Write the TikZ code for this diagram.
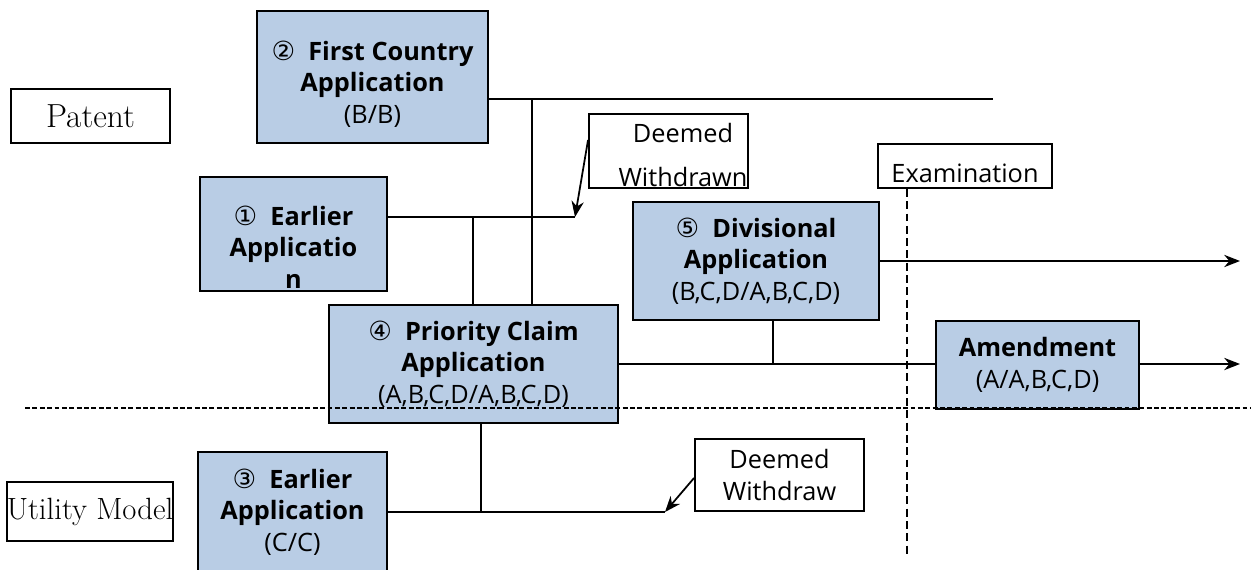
\documentclass[tikz,border=0pt]{standalone}
\usepackage{fontspec}
\usepackage{tikz}
\usetikzlibrary{arrows.meta}
\newfontfamily\appfont{Open Sans}
\newfontfamily\circfont{DejaVu Sans}
\definecolor{appblue}{RGB}{185,205,229}
\newcommand{\circnum}[1]{{\circfont\fontsize{15}{15}\selectfont #1}}
\tikzstyle{apptext} = [align=center, font=\appfont\fontsize{14.4}{18}\selectfont]
\tikzstyle{appbox} = [apptext, rectangle, draw=black, line width=1.1pt, fill=appblue]
\tikzstyle{notebox} = [apptext, rectangle, draw=black, line width=1.1pt, fill=white]
\tikzstyle{sidebox} = [rectangle, draw=black, line width=1.1pt, inner sep=0pt, align=center]
\tikzstyle{link} = [line width=1pt]
\tikzstyle{arrow} = [line width=1pt, -{Stealth[length=9pt, width=7pt]}]
\tikzstyle{hdivider} = [line width=0.7pt, dash pattern=on 2.8pt off 1.4pt]
\tikzstyle{vdivider} = [line width=0.7pt, dash pattern=on 4.5pt off 2.5pt]

\begin{document}
\begin{tikzpicture}[x=0.02cm, y=-0.02cm]
        \useasboundingbox (0,0) rectangle (1251,569);
        \node (patent) [sidebox, minimum width=3.18cm, minimum height=1.08cm, font=\fontsize{19}{20}\selectfont] at (90.5,116) {Patent};
        \node (utility) [sidebox, minimum width=3.28cm, minimum height=1.18cm, font=\fontsize{17.5}{18}\selectfont] at (90,511.5) {Utility Model};
        \node (first) [appbox, minimum width=4.62cm, minimum height=2.64cm,
            label={[apptext, yshift=-0.14cm]center:\circnum{②}\ \ \textbf{First Country}\\\textbf{Application}\\(B/B)}] at (372.5,77) {};
        \node (earlier1) [appbox, minimum width=3.74cm, minimum height=2.28cm,
            label={[apptext, yshift=-0.26cm]center:\circnum{①}\ \ \textbf{Earlier}\\\textbf{Applicatio}\\\textbf{n}}] at (293.5,234) {};
        \node (dw1) [notebox, minimum width=3.18cm, minimum height=1.48cm,
            label={[apptext, font=\appfont\fontsize{14.4}{25.6}\selectfont, xshift=0.29cm, yshift=-0.08cm]center:Deemed\\Withdrawn}] at (668.5,151) {};
        \node (exam) [notebox, minimum width=3.48cm, minimum height=0.88cm,
            label={[apptext, yshift=-0.15cm]center:Examination}] at (965,166) {};
        \node (div) [appbox, minimum width=4.92cm, minimum height=2.36cm] at (756,261) {\circnum{⑤}\ \ \textbf{Divisional}\\\textbf{Application}\\(B,C,D/A,B,C,D)};
        \node (prio) [appbox, minimum width=5.78cm, minimum height=2.36cm] at (473.5,364) {\circnum{④}\ \ \textbf{Priority Claim}\\\textbf{Application}\\(A,B,C,D/A,B,C,D)};
        \node (amend) [appbox, minimum width=4.06cm, minimum height=1.76cm] at (1037.5,365) {\textbf{Amendment}\\(A/A,B,C,D)};
        \node (earlier3) [appbox, minimum width=3.78cm, minimum height=2.4cm] at (292.5,512) {\circnum{③}\ \ \textbf{Earlier}\\\textbf{Application}\\(C/C)};
        \node (dw3) [notebox, minimum width=3.38cm, minimum height=1.44cm] at (779.5,475) {Deemed\\Withdraw};
        % joints and free ends
        \coordinate (fend) at (993,99);
        \coordinate (j2) at (532,99);
        \coordinate (w1) at (575,217);
        \coordinate (j1) at (473,217);
        \coordinate (e5) at (1240,261);
        \coordinate (e4) at (1240,364);
        \coordinate (j5) at (773,364);
        \coordinate (j3) at (481,512);
        \coordinate (w3) at (665,512);
        \coordinate (dl) at (25,408);
        \coordinate (dr) at (1251,408);
        \coordinate (vb) at (907,555);
        \draw [link] (first.east |- fend) -- (fend);
        \draw [link] (j2) -- (j2 |- prio.north);
        \draw [link] (earlier1.east |- w1) -- (w1);
        \draw [link] (j1) -- (j1 |- prio.north);
        \draw [arrow] ([yshift=0.22cm]dw1.west) -- (w1);
        \draw [arrow] (div.east) -- (e5);
        \draw [link] (prio.east) -- (prio.east -| amend.west);
        \draw [arrow] (amend.east |- e4) -- (e4);
        \draw [link] (j5 |- div.south) -- (j5);
        \draw [link] (j3 |- prio.south) -- (j3);
        \draw [link] (earlier3.east |- w3) -- (w3);
        \draw [arrow] ([yshift=-0.06cm]dw3.west) -- (w3);
        \draw [hdivider] (dl) -- (dr);
        \draw [vdivider] (vb |- exam.south) -- (vb);
\end{tikzpicture}
\end{document}
